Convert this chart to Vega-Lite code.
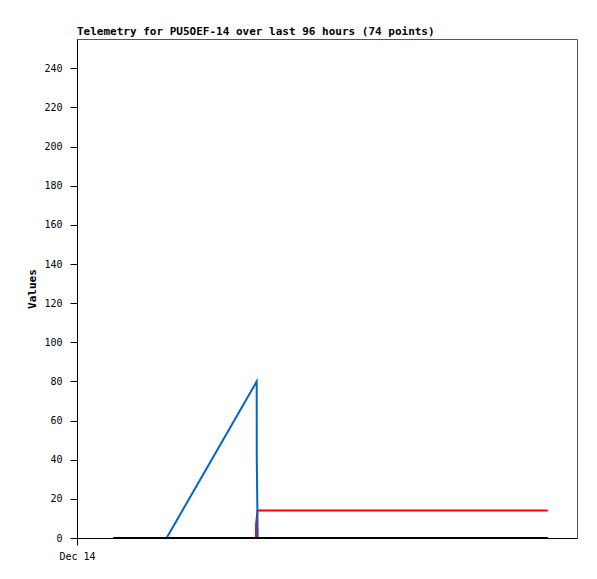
{
  "$schema": "https://vega.github.io/schema/vega-lite/v6.json",
  "width": 500,
  "height": 499,
  "autosize": "none",
  "padding": {"left": 77, "top": 39, "right": 20, "bottom": 41},
  "background": "white",
  "title": {"text": "Telemetry for PU5OEF-14 over last 96 hours (74 points)", "anchor": "start", "frame": "group", "font": "DejaVu Sans Mono", "fontSize": 11, "fontWeight": "bold", "color": "black", "offset": 2},
  "config": {"view": {"stroke": "#555555", "strokeWidth": 1}},
  "datasets": {
    "red": [
      {"t": "2024-12-14T07:00:00", "v": 0},
      {"t": "2024-12-15T10:22:00", "v": 0},
      {"t": "2024-12-15T10:23:00", "v": 7},
      {"t": "2024-12-15T10:40:00", "v": 14},
      {"t": "2024-12-17T18:24:00", "v": 14}
    ],
    "blue": [
      {"t": "2024-12-14T17:12:00", "v": 0},
      {"t": "2024-12-15T10:30:00", "v": 80},
      {"t": "2024-12-15T10:31:00", "v": 40},
      {"t": "2024-12-15T10:42:00", "v": 0}
    ],
    "black": [
      {"t": "2024-12-14T07:00:00", "v": 0},
      {"t": "2024-12-17T18:24:00", "v": 0}
    ]
  },
  "encoding": {
    "x": {"field": "t", "type": "temporal",
      "scale": {"domain": [{"year": 2024, "month": 12, "date": 14}, {"year": 2024, "month": 12, "date": 18}]},
      "axis": {"values": [{"year": 2024, "month": 12, "date": 14}], "format": "%b %d", "title": null, "grid": false, "labelFont": "DejaVu Sans Mono", "labelFontSize": 10, "labelColor": "black", "tickSize": 7, "tickColor": "black", "domainColor": "black", "labelPadding": 6, "labelFlush": false}},
    "y": {"field": "v", "type": "quantitative",
      "scale": {"domain": [0, 255], "nice": false},
      "axis": {"values": [0, 20, 40, 60, 80, 100, 120, 140, 160, 180, 200, 220, 240], "title": "Values", "titleFont": "DejaVu Sans Mono", "titleFontSize": 11, "titleFontWeight": "bold", "titleColor": "black", "titlePadding": 6, "grid": false, "labelFont": "DejaVu Sans Mono", "labelFontSize": 10, "labelColor": "black", "tickSize": 7, "tickColor": "black", "domainColor": "black", "labelPadding": 8}}
  },
  "layer": [
    {"data": {"name": "red"}, "mark": {"type": "line", "color": "#ff0000", "strokeWidth": 2}},
    {"data": {"name": "blue"}, "mark": {"type": "line", "color": "#0066cc", "strokeWidth": 2}},
    {"data": {"name": "black"}, "mark": {"type": "line", "color": "#000000", "strokeWidth": 2}}
  ]
}
